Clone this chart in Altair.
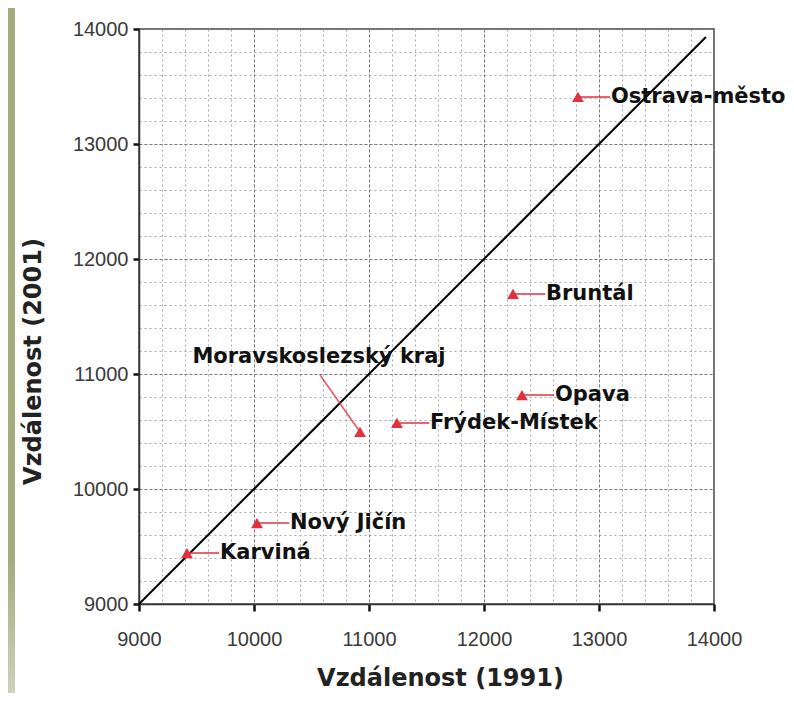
import altair as alt
import pandas as pd

# ---- data ----
districts = ["Ostrava-město", "Bruntál", "Opava", "Frýdek-Místek",
             "Moravskoslezský kraj", "Nový Jičín", "Karviná"]
dist_1991 = [12817, 12252, 12330, 11243, 10922, 10026, 9417]
dist_2001 = [13409, 11696, 10817, 10574, 10496, 9704, 9443]

# callout for the region total (label placed up-left of its point)
callout_name = "Moravskoslezský kraj"
callout_label_x = [10565]
callout_label_y = [11148]
callout_end_x = [10574]
callout_end_y = [10991]

# diagonal reference line (x = y)
diag_vals = [9000, 13930]

major_ticks = [9000, 10000, 11000, 12000, 13000, 14000]
minor_ticks = [9000 + 200 * i for i in range(26)]
domain = [9000, 14000]

x_title = "Vzdálenost (1991)"
y_title = "Vzdálenost (2001)"

RED = "#e3303f"
LABEL_FONT = "Liberation Sans"
BOLD_FONT = "DejaVu Sans"

df = pd.DataFrame({"name": districts, "x": dist_1991, "y": dist_2001})
horiz = df[df["name"] != callout_name]
callout = df[df["name"] == callout_name].copy()
callout["ex"] = callout_end_x
callout["ey"] = callout_end_y
callout_lbl = pd.DataFrame({"name": [callout_name], "x": callout_label_x, "y": callout_label_y})
diag = pd.DataFrame({"x": diag_vals, "y": diag_vals})

xs = alt.Scale(domain=domain, nice=False, zero=False)
ys = alt.Scale(domain=domain, nice=False, zero=False)

common_axis = dict(
    values=major_ticks, format="d", grid=True, gridDash=[3, 2], gridColor="#7a7a7a", gridWidth=1,
    domainColor="#333333", domainWidth=1.5, tickColor="#111111", tickWidth=2.5,
    labelFont=LABEL_FONT, labelFontSize=20, labelColor="#3a3a3a",
    labelOverlap=False, labelFlush=False,
    titleFont=BOLD_FONT, titleFontSize=24, titleFontWeight="bold", titleColor="#222222",
)
x_axis = alt.Axis(orient="bottom", tickSize=7, labelPadding=18, title=x_title,
                  titleX=301, titleY=81, titleBaseline="alphabetic", **common_axis)
y_axis = alt.Axis(orient="left", tickSize=6, labelPadding=5, title=y_title,
                  titleX=-106, titleY=332, titleAngle=270, titleBaseline="middle",
                  **common_axis)

minor_x = alt.Axis(orient="bottom", values=minor_ticks, grid=True, gridDash=[2, 3],
                   gridColor="#a8a8a8", gridWidth=1, labels=False, ticks=False,
                   domain=False, title=None)
minor_y = alt.Axis(orient="left", values=minor_ticks, grid=True, gridDash=[2, 3],
                   gridColor="#a8a8a8", gridWidth=1, labels=False, ticks=False,
                   domain=False, title=None)

# decorative olive strip at the left edge
strip_fill = alt.Gradient(
    gradient="linear",
    stops=[alt.GradientStop(color="#a4ab7c", offset=0),
           alt.GradientStop(color="#a4ab7c", offset=0.8),
           alt.GradientStop(color="#d0d3bd", offset=1)],
    x1=0, x2=0, y1=0, y2=1,
)
strip = alt.Chart(pd.DataFrame({"a": [0]})).mark_rect(fill=strip_fill).encode(
    x=alt.value(-131), x2=alt.value(-124), y=alt.value(-21), y2=alt.value(670)
)

minor_grid = alt.Chart(df).mark_point(opacity=0).encode(
    x=alt.X("x:Q", scale=xs, axis=minor_x),
    y=alt.Y("y:Q", scale=ys, axis=minor_y),
)

diag_line = alt.Chart(diag).mark_line(color="#000000", strokeWidth=2).encode(
    x=alt.X("x:Q", scale=xs, axis=x_axis),
    y=alt.Y("y:Q", scale=ys, axis=y_axis),
)

connectors = alt.Chart(horiz).transform_calculate(
    xe="datum.x + 280"
).mark_rule(color=RED, strokeWidth=1.6).encode(
    x=alt.X("x:Q", scale=xs, axis=None),
    x2="xe:Q",
    y=alt.Y("y:Q", scale=ys, axis=None),
)

callout_rule = alt.Chart(callout).mark_rule(color=RED, strokeWidth=1.6, opacity=0.8).encode(
    x=alt.X("x:Q", scale=xs, axis=None),
    x2="ex:Q",
    y=alt.Y("y:Q", scale=ys, axis=None),
    y2="ey:Q",
)

triangles = alt.Chart(df).mark_point(
    shape="triangle-up", filled=True, color=RED, size=140, opacity=1
).encode(
    x=alt.X("x:Q", scale=xs, axis=None),
    y=alt.Y("y:Q", scale=ys, axis=None),
)

labels = alt.Chart(horiz).mark_text(
    align="left", baseline="middle", dx=33, font=BOLD_FONT, fontSize=21,
    fontWeight="bold", color="#111111"
).encode(
    x=alt.X("x:Q", scale=xs, axis=None),
    y=alt.Y("y:Q", scale=ys, axis=None),
    text="name:N",
)

callout_text = alt.Chart(callout_lbl).mark_text(
    align="center", baseline="middle", font=BOLD_FONT, fontSize=21,
    fontWeight="bold", color="#111111"
).encode(
    x=alt.X("x:Q", scale=xs, axis=None),
    y=alt.Y("y:Q", scale=ys, axis=None),
    text="name:N",
)

chart = alt.layer(
    strip, minor_grid, diag_line, connectors, callout_rule, triangles, labels, callout_text
).resolve_axis(x="independent", y="independent").properties(
    width=575, height=575,
    autosize=alt.AutoSizeParams(type="none"),
    padding={"left": 131, "top": 21, "right": 72, "bottom": 89},
    background="#ffffff",
).configure_view(stroke="#444444", strokeWidth=1.5)

chart.save("out.html", embed_options={"renderer": "svg", "actions": False})
